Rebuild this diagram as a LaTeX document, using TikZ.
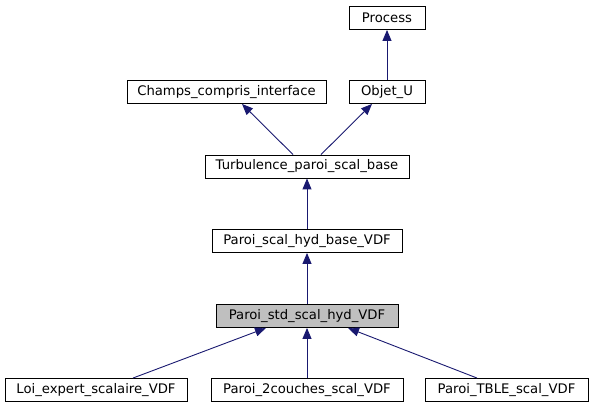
\documentclass[tikz,border=0pt]{standalone}
\usepackage{fontspec}
\setmainfont{DejaVu Sans}
\usetikzlibrary{arrows.meta}
\definecolor{edgecol}{HTML}{191970}
\definecolor{focus}{HTML}{BFBFBF}
\tikzset{
  cls/.style={draw=black, line width=0.9pt, fill=white, minimum height=23pt, inner sep=0pt, font=\fontsize{13.2}{16}\selectfont},
  focuscls/.style={cls, fill=focus},
  inh/.style={draw=edgecol, line width=0.9pt, {Triangle[length=11pt,width=9pt,fill=edgecol]}-},
}
\begin{document}
\begin{tikzpicture}[x=1pt,y=1pt]
\useasboundingbox (0,0) rectangle (593,411);
\node[cls, minimum width=76pt]  (process) at (387,393) {Process};
\node[cls, minimum width=199pt] (champs)  at (226.5,319) {Champs\_compris\_interface};
\node[cls, minimum width=76pt]  (objet)   at (387,319) {Objet\_U};
\node[cls, minimum width=204pt] (turb)    at (307,244.5) {Turbulence\_paroi\_scal\_base};
\node[cls, minimum width=190pt] (hyd)     at (307,170) {Paroi\_scal\_hyd\_base\_VDF};
\node[focuscls, minimum width=182pt] (std) at (307,95) {Paroi\_std\_scal\_hyd\_VDF};
\node[cls, minimum width=182pt] (loi)     at (96,21) {Loi\_expert\_scalaire\_VDF};
\node[cls, minimum width=192pt] (deux)    at (307,21) {Paroi\_2couches\_scal\_VDF};
\node[cls, minimum width=163pt] (tble)    at (506.5,21) {Paroi\_TBLE\_scal\_VDF};
\draw[inh] (process.south) -- (objet.north);
\draw[inh] (champs.south -| 242,0) -- (turb.north -| 293,0);
\draw[inh] (objet.south -| 372,0) -- (turb.north -| 321,0);
\draw[inh] (turb.south) -- (hyd.north);
\draw[inh] (hyd.south) -- (std.north);
\draw[inh] (std.south -| 266,0) -- (loi.north -| 133,0);
\draw[inh] (std.south) -- (deux.north);
\draw[inh] (std.south -| 348,0) -- (tble.north -| 477,0);
\end{tikzpicture}
\end{document}
